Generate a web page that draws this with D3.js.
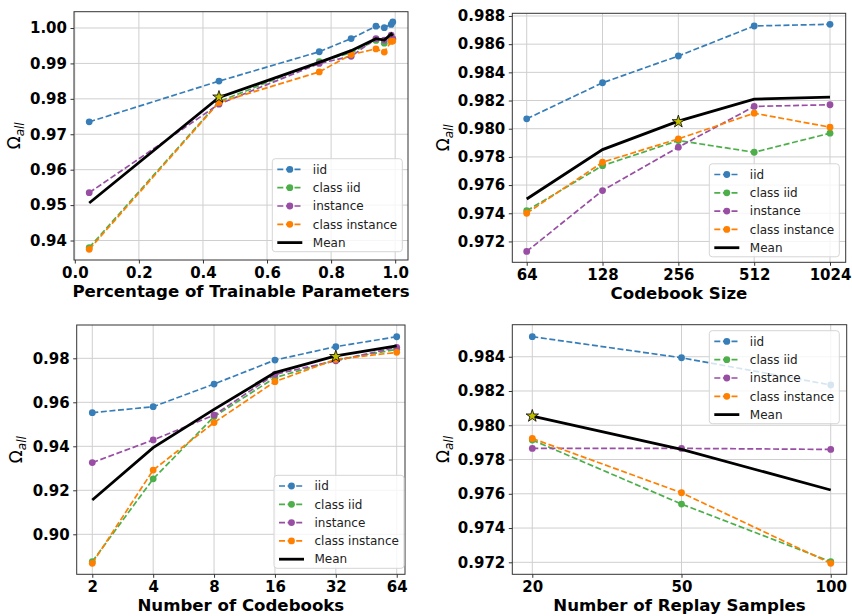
<!DOCTYPE html>
<html>
<head>
<meta charset="utf-8">
<script src="https://cdn.jsdelivr.net/npm/d3@7"></script>
<style>
  body { margin: 0; background: #fff; }
  svg { display: block; font-family: "DejaVu Sans", sans-serif; }
</style>
</head>
<body>
<svg id="chart" width="852" height="616"></svg>
<script>
// series names and colours (shared by all panels)
var seriesNames = ["iid", "class iid", "instance", "class instance"];
var seriesColors = ["#377eb8", "#4daf4a", "#984ea3", "#ff7f00"];

// panel 1: percentage of trainable parameters
var paramPct = [0.045, 0.45, 0.763, 0.8625, 0.94, 0.966, 0.9875, 0.9925];
var paramIid = [0.9735, 0.985, 0.9933, 0.997, 1.0005, 1.0001, 1.001, 1.0017];
var paramClassIid = [0.938, 0.9792, 0.9905, 0.993, 0.9965, 0.9957, 0.997, 0.9968];
var paramInstance = [0.9535, 0.9785, 0.990, 0.992, 0.997, 0.9966, 0.998, 0.997];
var paramClassInstance = [0.9375, 0.979, 0.9876, 0.9925, 0.9941, 0.9932, 0.9962, 0.9963];
var paramMean = [0.9506, 0.9804, 0.9903, 0.9936, 0.997, 0.9966, 0.9983, 0.9978];
var paramTicks = [0.0, 0.2, 0.4, 0.6, 0.8, 1.0];
var paramYTicks = [0.94, 0.95, 0.96, 0.97, 0.98, 0.99, 1.00];

// panel 2: codebook size
var cbSize = [64, 128, 256, 512, 1024];
var cbIid = [0.9807, 0.98326, 0.98516, 0.98729, 0.98741];
var cbClassIid = [0.97418, 0.97738, 0.97916, 0.97833, 0.97968];
var cbInstance = [0.97129, 0.97561, 0.97869, 0.98158, 0.9817];
var cbClassInstance = [0.974, 0.97762, 0.97928, 0.9811, 0.98011];
var cbMean = [0.97501, 0.97852, 0.98054, 0.9821, 0.98224];
var cbYTicks = [0.972, 0.974, 0.976, 0.978, 0.980, 0.982, 0.984, 0.986, 0.988];

// panel 3: number of codebooks
var nCb = [2, 4, 8, 16, 32, 64];
var ncIid = [0.9553, 0.958, 0.9683, 0.9792, 0.9853, 0.9898];
var ncClassIid = [0.8876, 0.9252, 0.9535, 0.9712, 0.9792, 0.9841];
var ncInstance = [0.9326, 0.9429, 0.9542, 0.9727, 0.9789, 0.985];
var ncClassInstance = [0.8868, 0.9292, 0.9508, 0.9694, 0.9795, 0.9827];
var ncMean = [0.9156, 0.9394, 0.9568, 0.9735, 0.9811, 0.9856];
var ncYTicks = [0.90, 0.92, 0.94, 0.96, 0.98];

// panel 4: number of replay samples
var replay = ["20", "50", "100"];
var rpIid = [0.98517, 0.98394, 0.98235];
var rpClassIid = [0.97914, 0.9754, 0.97204];
var rpInstance = [0.97865, 0.97865, 0.97859];
var rpClassInstance = [0.97923, 0.97606, 0.97194];
var rpMean = [0.98054, 0.97859, 0.97622];
var rpYTicks = [0.972, 0.974, 0.976, 0.978, 0.980, 0.982, 0.984];

var svg = d3.select("#chart");

function drawPanel(p){
    var g = svg.append("g");
    var x = p.x, y = p.y;
    var left = x.range()[0], right = x.range()[1];
    var top = y.range()[1], bottom = y.range()[0];

    // grid
    g.selectAll(".gx").data(p.xTicks).enter().append("line")
        .attr("x1", function(d){ return x(d); }).attr("x2", function(d){ return x(d); })
        .attr("y1", top).attr("y2", bottom)
        .attr("stroke", "#cfcfcf").attr("stroke-width", 1);
    g.selectAll(".gy").data(p.yTicks).enter().append("line")
        .attr("x1", left).attr("x2", right)
        .attr("y1", function(d){ return y(d); }).attr("y2", function(d){ return y(d); })
        .attr("stroke", "#cfcfcf").attr("stroke-width", 1);

    // axes
    var xAxis = d3.axisBottom(x).tickValues(p.xTicks).tickFormat(p.xFormat)
        .tickSizeInner(3.5).tickSizeOuter(0).tickPadding(3.5);
    var yAxis = d3.axisLeft(y).tickValues(p.yTicks).tickFormat(p.yFormat)
        .tickSizeInner(3.5).tickSizeOuter(0).tickPadding(3.5);
    var gx = g.append("g").attr("transform", "translate(0," + bottom + ")").call(xAxis);
    var gy = g.append("g").attr("transform", "translate(" + left + ",0)").call(yAxis);
    [gx, gy].forEach(function(a){
        a.select(".domain").remove();
        a.selectAll("line").attr("stroke", "#333").attr("stroke-width", 1);
        a.selectAll("text").attr("fill", "#000").attr("font-size", 15)
            .attr("font-weight", "bold").attr("font-family", "DejaVu Sans");
    });

    // lines
    var line = d3.line()
        .x(function(d){ return x(d[0]); })
        .y(function(d){ return y(d[1]); });
    p.series.forEach(function(vals, i){
        var pts = p.xs.map(function(xv, j){ return [xv, vals[j]]; });
        g.append("path").datum(pts).attr("d", line)
            .attr("fill", "none").attr("stroke", seriesColors[i])
            .attr("stroke-width", 1.7).attr("stroke-dasharray", "6,2.6");
        g.selectAll(".m" + i).data(pts).enter().append("circle")
            .attr("cx", function(d){ return x(d[0]); })
            .attr("cy", function(d){ return y(d[1]); })
            .attr("r", 3.4).attr("fill", seriesColors[i]);
    });
    var meanPts = p.xs.map(function(xv, j){ return [xv, p.mean[j]]; });
    g.append("path").datum(meanPts).attr("d", line)
        .attr("fill", "none").attr("stroke", "#000").attr("stroke-width", 2.8);

    // star for chosen setting
    g.append("path")
        .attr("d", d3.symbol().type(d3.symbolStar).size(48))
        .attr("transform", "translate(" + x(p.star[0]) + "," + y(p.star[1]) + ")")
        .attr("fill", "#bfbf00").attr("stroke", "#000").attr("stroke-width", 0.8);

    // frame
    g.append("rect").attr("x", left).attr("y", top)
        .attr("width", right - left).attr("height", bottom - top)
        .attr("fill", "none").attr("stroke", "#333").attr("stroke-width", 1);

    // labels
    g.append("text").attr("x", (left + right) / 2).attr("y", bottom + 37)
        .attr("text-anchor", "middle").attr("font-size", 16.6).attr("font-weight", "bold")
        .text(p.xLabel);
    var yl = g.append("text")
        .attr("transform", "translate(" + p.yLabelX + "," + (top + bottom) / 2 + ") rotate(-90)")
        .attr("text-anchor", "middle").attr("font-size", 17);
    yl.append("tspan").text("Ω");
    yl.append("tspan").attr("font-size", 12).attr("font-style", "italic")
        .attr("dy", 4).text("all");

    // legend
    var lw = 130, lh = 93, step = 18.3;
    var lx = right - p.legend.dx - lw;
    var ly = p.legend.top ? top + p.legend.dy : bottom - p.legend.dy - lh;
    var leg = g.append("g").attr("transform", "translate(" + lx + "," + ly + ")");
    leg.append("rect").attr("width", lw).attr("height", lh).attr("rx", 3)
        .attr("fill", "#fff").attr("fill-opacity", 0.8)
        .attr("stroke", "#d5d5d5").attr("stroke-width", 1);
    var names = seriesNames.concat(["Mean"]);
    names.forEach(function(n, i){
        var cy = 10.7 + i * step;
        var isMean = i === 4;
        leg.append("line").attr("x1", 5).attr("x2", 30).attr("y1", cy).attr("y2", cy)
            .attr("stroke", isMean ? "#000" : seriesColors[i])
            .attr("stroke-width", isMean ? 2.8 : 1.7)
            .attr("stroke-dasharray", isMean ? null : "6,2.6");
        if (!isMean){
            leg.append("circle").attr("cx", 17.5).attr("cy", cy).attr("r", 3.4)
                .attr("fill", seriesColors[i]);
        }
        leg.append("text").attr("x", 40.5).attr("y", cy + 4.3)
            .attr("font-size", 12).attr("fill", "#222").text(n);
    });
}

var log2 = function(v){ return Math.pow(2, v); };

drawPanel({
    x: d3.scaleLinear().domain([-0.0025, 1.04]).range([74, 408]),
    y: d3.scaleLinear().domain([0.9345, 1.0046]).range([260, 11.7]),
    xs: paramPct,
    series: [paramIid, paramClassIid, paramInstance, paramClassInstance],
    mean: paramMean,
    star: [paramPct[1], 0.9805],
    xTicks: paramTicks, xFormat: d3.format(".1f"),
    yTicks: paramYTicks, yFormat: d3.format(".2f"),
    xLabel: "Percentage of Trainable Parameters",
    yLabelX: 20,
    legend: { dx: 5.7, dy: 8.3 }
});

drawPanel({
    x: d3.scaleLog().base(2).domain([log2(5.81), log2(10.207)]).range([512.3, 845.7]),
    y: d3.scaleLinear().domain([0.97052, 0.98819]).range([262.3, 13.3]),
    xs: cbSize,
    series: [cbIid, cbClassIid, cbInstance, cbClassInstance],
    mean: cbMean,
    star: [cbSize[2], 0.9805],
    xTicks: cbSize, xFormat: d3.format("d"),
    yTicks: cbYTicks, yFormat: d3.format(".3f"),
    xLabel: "Codebook Size",
    yLabelX: 449,
    legend: { dx: 6.4, dy: 5.5 }
});

drawPanel({
    x: d3.scaleLog().base(2).domain([log2(0.744), log2(6.136)]).range([76.7, 405]),
    y: d3.scaleLinear().domain([0.88182, 0.99514]).range([574.3, 325]),
    xs: nCb,
    series: [ncIid, ncClassIid, ncInstance, ncClassInstance],
    mean: ncMean,
    star: [nCb[4], 0.9808],
    xTicks: nCb, xFormat: d3.format("d"),
    yTicks: ncYTicks, yFormat: d3.format(".2f"),
    xLabel: "Number of Codebooks",
    yLabelX: 22,
    legend: { dx: 1, dy: 6 }
});

// replay samples are spaced evenly, so use their index
var replayIdx = replay.map(function(d, i){ return i; });
drawPanel({
    x: d3.scaleLinear().domain([-0.134, 2.107]).range([512.3, 846.7]),
    y: d3.scaleLinear().domain([0.9713, 0.98587]).range([574.3, 324.7]),
    xs: replayIdx,
    series: [rpIid, rpClassIid, rpInstance, rpClassInstance],
    mean: rpMean,
    star: [0, 0.98054],
    xTicks: replayIdx, xFormat: function(i){ return replay[i]; },
    yTicks: rpYTicks, yFormat: d3.format(".3f"),
    xLabel: "Number of Replay Samples",
    yLabelX: 449,
    legend: { top: true, dx: 7.4, dy: 6 }
});
</script>
</body>
</html>
